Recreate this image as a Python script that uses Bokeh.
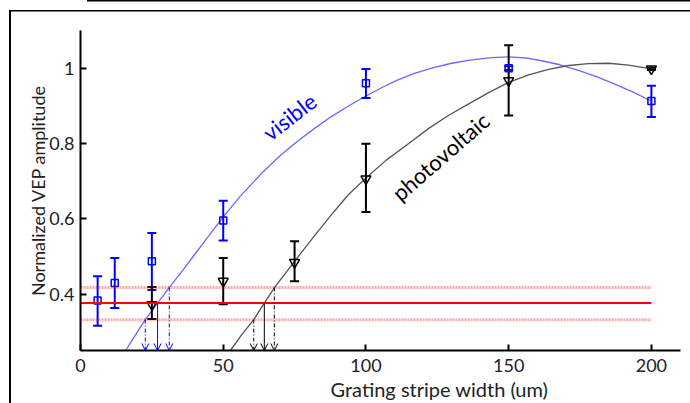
from bokeh.plotting import figure
from bokeh.embed import file_html
from bokeh.resources import INLINE
from bokeh.models import Range1d, FixedTicker, Arrow, OpenHead, ColumnDataSource, Title
from bokeh.core.properties import value
import math

# ---- data ----
vis_x = [6, 12, 25, 50, 100, 150, 200]
vis_y = [0.383, 0.429, 0.487, 0.595, 0.960, 1.000, 0.913]
vis_lo = [0.316, 0.363, 0.411, 0.542, 0.921, 0.995, 0.870]
vis_hi = [0.447, 0.496, 0.562, 0.648, 0.998, 1.005, 0.953]

pv_x = [25, 50, 75, 100, 150, 200]
pv_y = [0.372, 0.434, 0.484, 0.706, 0.967, 0.998]
pv_lo = [0.334, 0.373, 0.434, 0.618, 0.874, 0.995]
pv_hi = [0.419, 0.496, 0.540, 0.799, 1.061, 1.001]

vis_fit_x = [14, 15.8, 20, 22.7, 27, 31.1, 36, 40, 45, 50, 56, 64, 70, 76, 82, 88, 94, 100,
             106, 111, 117, 123, 130, 137, 144, 150, 156, 162, 168, 175, 181, 187, 194, 200]
vis_fit_y = [0.228, 0.25, 0.30, 0.332, 0.376, 0.4175, 0.465, 0.505, 0.555, 0.605, 0.66, 0.725,
             0.768, 0.806, 0.84, 0.872, 0.90, 0.926, 0.95, 0.968, 0.986, 1.0, 1.013, 1.022,
             1.028, 1.03, 1.027, 1.019, 1.009, 0.993, 0.977, 0.958, 0.935, 0.912]

pv_fit_x = [50, 52.5, 56.5, 60.7, 64.4, 68, 75, 82, 88.7, 94, 100, 107, 115, 122, 129, 136,
            143, 150, 157, 164, 171, 178, 185, 192, 200]
pv_fit_y = [0.222, 0.25, 0.292, 0.332, 0.376, 0.4175, 0.487, 0.555, 0.618, 0.665, 0.708, 0.755,
            0.80, 0.84, 0.875, 0.905, 0.935, 0.962, 0.982, 0.997, 1.007, 1.012, 1.013, 1.008,
            0.998]

noise_x = [0, 200]
noise_mean = 0.376
noise_hi = 0.4175
noise_lo = 0.332

vis_cross_x = [22.7, 27.0, 31.1]
pv_cross_x = [60.7, 64.4, 67.9]
cross_levels = [0.332, 0.376, 0.4175]
cross_dash = ["4 2 1 2", "solid", "4 2 1 2"]

x_ticks = [0, 50, 100, 150, 200]
y_ticks = [0.4, 0.6, 0.8, 1.0]
y_tick_labels = {0.4: "0.4", 0.6: "0.6", 0.8: "0.8", 1.0: "1"}

x_title = "Grating stripe width (um)"
y_title = "Normalized VEP amplitude"

labels_text = ["visible", "photovoltaic"]
labels_x = [73.2, 126.1]
labels_y = [0.871, 0.765]
labels_angle = [38, 41]
labels_color = ["#0000ff", "#000000"]

FONT = "Lato"
BLUE = "#0000ff"
TXT = "#222222"

p = figure(width=690, height=403, output_backend="svg", toolbar_location=None,
           x_range=Range1d(0, 210.2), y_range=Range1d(0.25, 1.1),
           min_border_left=80, min_border_right=10, min_border_top=30, min_border_bottom=53)
p.outline_line_color = None
p.grid.visible = False
p.background_fill_color = "white"
p.border_fill_color = None
# thin page frame lines seen at the left/top of the reference
p.styles = {"background": ("linear-gradient(#000,#000) 87px 0px / 603px 1.5px no-repeat, "
                           "linear-gradient(#000,#000) 9px 9.5px / 681px 1.5px no-repeat, "
                           "linear-gradient(#000,#000) 9px 9.5px / 2px 394px no-repeat, white")}

for ax in (p.xaxis[0], p.yaxis[0]):
    ax.axis_line_width = 2
    ax.axis_line_color = "black"
    ax.major_tick_line_width = 2
    ax.major_tick_line_color = "black"
    ax.major_tick_in = 6
    ax.major_tick_out = 0
    ax.minor_tick_line_color = None
    ax.major_label_text_font = FONT
    ax.major_label_text_font_size = "18px"
    ax.major_label_text_color = TXT
    ax.axis_label_text_font = FONT
    ax.axis_label_text_font_style = "normal"
    ax.axis_label_text_color = TXT

p.yaxis.axis_label_text_font_size = "18px"
p.xaxis.ticker = FixedTicker(ticks=x_ticks)
p.yaxis.ticker = FixedTicker(ticks=y_ticks)
p.yaxis.major_label_overrides = y_tick_labels
p.yaxis.axis_label = y_title
p.xaxis.major_label_standoff = 8
p.yaxis.major_label_standoff = 6
p.yaxis.axis_label_standoff = -3

# x-axis title: in the reference it sits right of the frame centre
p.add_layout(Title(text=x_title, align="left", offset=250, standoff=0,
                   text_font=FONT, text_font_size="20px", text_font_style="normal",
                   text_color=TXT), "below")

# fitted curves
p.line(vis_fit_x, vis_fit_y, line_color="#6a6aff", line_width=1.3)
p.line(pv_fit_x, pv_fit_y, line_color="#555555", line_width=1.3)

# error bars
p.segment(x0=vis_x, y0=vis_lo, x1=vis_x, y1=vis_hi, line_color=BLUE, line_width=2)
p.scatter(vis_x + vis_x, vis_lo + vis_hi, marker="dash", size=9, line_color=BLUE, line_width=2)
p.segment(x0=pv_x, y0=pv_lo, x1=pv_x, y1=pv_hi, line_color="black", line_width=2)
p.scatter(pv_x + pv_x, pv_lo + pv_hi, marker="dash", size=9, line_color="black", line_width=2)

# markers
p.scatter(vis_x, vis_y, marker="square", size=7, line_color=BLUE, line_width=1.5, fill_color=None)
p.scatter(pv_x, pv_y, marker="inverted_triangle", size=10, line_color="black", line_width=1.5,
          fill_color=None)

# noise level lines
p.line(noise_x, [noise_hi, noise_hi], line_color="red", line_alpha=0.35, line_width=3, line_dash="2 1")
p.line(noise_x, [noise_lo, noise_lo], line_color="red", line_alpha=0.35, line_width=3, line_dash="2 1")
p.line(noise_x, [noise_mean, noise_mean], line_color="red", line_width=2)

# arrows down to the axis
for xs, col in ((vis_cross_x, BLUE), (pv_cross_x, "black")):
    for xv, lv, dash in zip(xs, cross_levels, cross_dash):
        p.add_layout(Arrow(end=OpenHead(size=7, line_color=col, line_width=1),
                           x_start=xv, y_start=lv, x_end=xv, y_end=0.25,
                           line_color=col, line_width=1, line_dash=dash))

# curve labels
lab = ColumnDataSource(dict(x=labels_x, y=labels_y, text=labels_text,
                            angle=[math.radians(a) for a in labels_angle], color=labels_color))
p.text(x="x", y="y", text="text", angle="angle", text_color="color", source=lab,
       text_font=value(FONT), text_font_size="22px", text_align="center", text_baseline="middle")

open("out.html", "w").write(file_html(p, INLINE))
